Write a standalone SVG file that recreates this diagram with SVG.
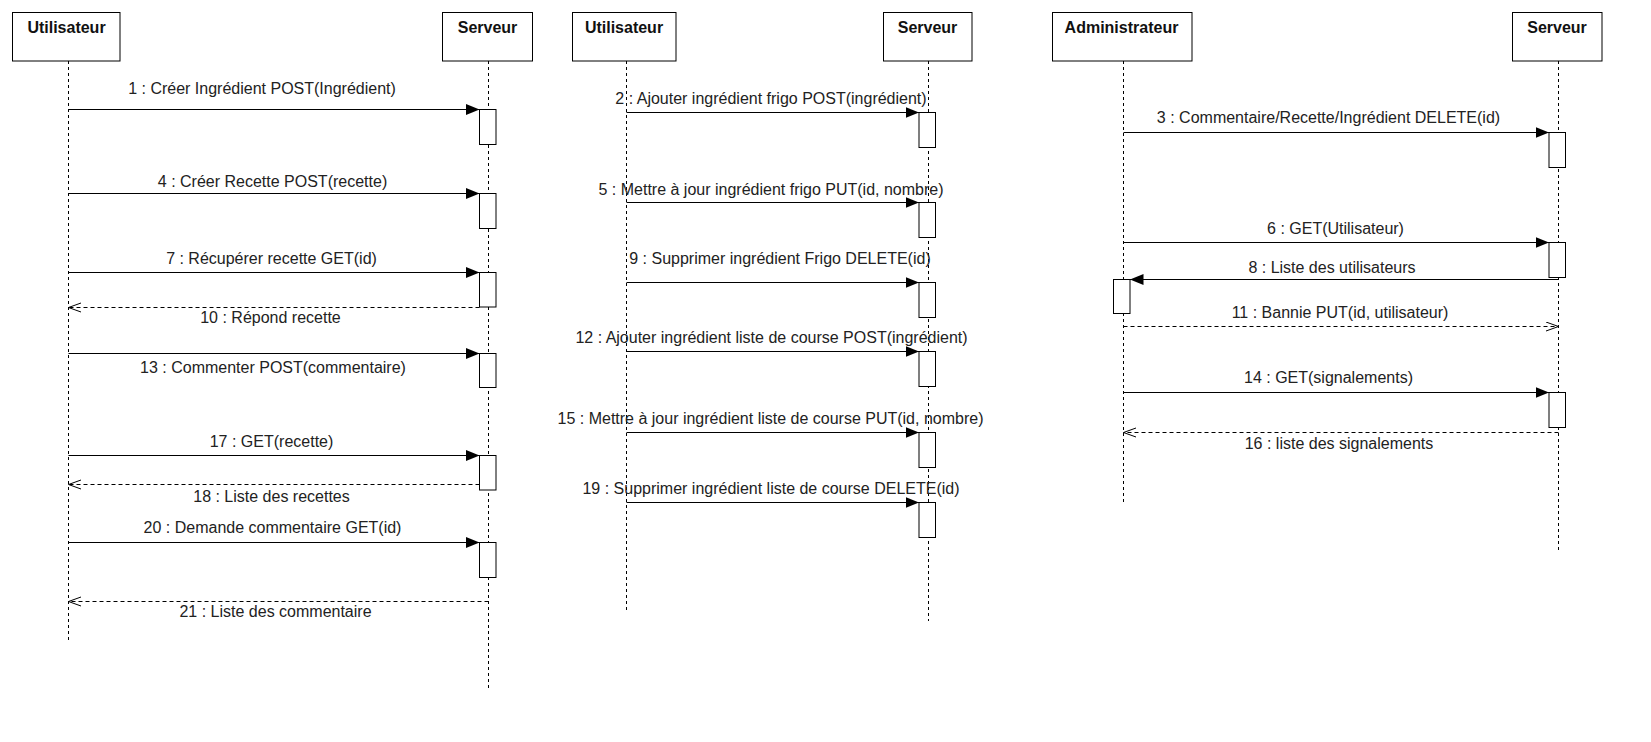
<svg xmlns="http://www.w3.org/2000/svg" width="1651" height="742" viewBox="0 0 1651 742">
  <style>
    .actor { fill: #ffffff; stroke: #000000; stroke-width: 1; }
    .title { font-family: "Liberation Sans", Arial, sans-serif; font-size: 16px; font-weight: bold; fill: #111111; text-anchor: middle; }
    .life { stroke: #000000; stroke-width: 1; stroke-dasharray: 3 3; fill: none; }
    .act { fill: #ffffff; stroke: #000000; stroke-width: 1; }
    .call { stroke: #000000; stroke-width: 1; fill: none; marker-end: url(#block); }
    .reply { stroke: #000000; stroke-width: 1; fill: none; stroke-dasharray: 4 3; marker-end: url(#open); }
    .lbl { font-family: "Liberation Sans", Arial, sans-serif; font-size: 16px; fill: #222222; text-anchor: middle; }
  </style>
  <defs>
    <marker id="block" markerUnits="userSpaceOnUse" markerWidth="15" markerHeight="12" refX="13.5" refY="5.5" orient="auto">
      <path d="M0,0 L13.5,5.5 L0,11 Z" fill="#000000"/>
    </marker>
    <marker id="open" markerUnits="userSpaceOnUse" markerWidth="15" markerHeight="12" refX="13" refY="5" orient="auto">
      <path d="M0.5,0.5 L13,5 L0.5,9.5" fill="none" stroke="#000000" stroke-width="1"/>
    </marker>
  </defs>

  <rect width="1651" height="742" fill="#ffffff"/>

  <!-- Diagram 1: Utilisateur / Serveur -->
  <g id="p1-utilisateur">
    <rect class="actor" x="12.5" y="12.5" width="107.5" height="48.5"/>
    <text class="title" x="66.5" y="33">Utilisateur</text>
    <path class="life" d="M68.5,61 V643"/>
  </g>
  <g id="p1-serveur">
    <rect class="actor" x="442.5" y="12.5" width="90" height="48.5"/>
    <text class="title" x="487.5" y="33">Serveur</text>
    <path class="life" d="M488.5,61 V690"/>
    <rect class="act" x="479.5" y="109.5" width="16.5" height="35"/>
    <rect class="act" x="479.5" y="193.5" width="16.5" height="35"/>
    <rect class="act" x="479.5" y="272.5" width="16.5" height="34.5"/>
    <rect class="act" x="479.5" y="353.5" width="16.5" height="34"/>
    <rect class="act" x="479.5" y="455.5" width="16.5" height="34.5"/>
    <rect class="act" x="479.5" y="542.5" width="16.5" height="35"/>
  </g>

  <!-- Diagram 2: Utilisateur / Serveur (frigo, liste de course) -->
  <g id="p2-utilisateur">
    <rect class="actor" x="572.5" y="12.5" width="103.5" height="48.5"/>
    <text class="title" x="624" y="33">Utilisateur</text>
    <path class="life" d="M626.5,61 V612"/>
  </g>
  <g id="p2-serveur">
    <rect class="actor" x="883.5" y="12.5" width="88.5" height="48.5"/>
    <text class="title" x="927.5" y="33">Serveur</text>
    <path class="life" d="M928.5,61 V621"/>
    <rect class="act" x="919" y="112.5" width="16.5" height="35"/>
    <rect class="act" x="919" y="202.5" width="16.5" height="35"/>
    <rect class="act" x="919" y="282.5" width="16.5" height="35"/>
    <rect class="act" x="919" y="351.5" width="16.5" height="35"/>
    <rect class="act" x="919" y="432.5" width="16.5" height="35"/>
    <rect class="act" x="919" y="502.5" width="16.5" height="35"/>
  </g>

  <!-- Diagram 3: Administrateur / Serveur -->
  <g id="p3-administrateur">
    <rect class="actor" x="1052.5" y="12.5" width="139.5" height="48.5"/>
    <text class="title" x="1121.5" y="33">Administrateur</text>
    <path class="life" d="M1123.5,61 V502"/>
    <rect class="act" x="1113.5" y="279.5" width="16.5" height="34"/>
  </g>
  <g id="p3-serveur">
    <rect class="actor" x="1512.5" y="12.5" width="89.5" height="48.5"/>
    <text class="title" x="1557" y="33">Serveur</text>
    <path class="life" d="M1558.5,61 V553"/>
    <rect class="act" x="1549" y="132.5" width="16.5" height="35"/>
    <rect class="act" x="1549" y="242.5" width="16.5" height="35"/>
    <rect class="act" x="1549" y="392.5" width="16.5" height="35"/>
  </g>

  <!-- Messages -->
  <g id="messages">
    <!-- diagram 1 -->
    <path class="call" d="M68.5,109.5 H479.5"/>
    <text class="lbl" x="262" y="94">1 : Créer Ingrédient POST(Ingrédient)</text>
    <path class="call" d="M68.5,193.5 H479.5"/>
    <text class="lbl" x="272.5" y="187">4 : Créer Recette POST(recette)</text>
    <path class="call" d="M68.5,272.5 H479.5"/>
    <text class="lbl" x="271.5" y="264">7 : Récupérer recette GET(id)</text>
    <path class="reply" d="M479.5,307.5 H68.5"/>
    <text class="lbl" x="270.5" y="323">10 : Répond recette</text>
    <path class="call" d="M68.5,353.5 H479.5"/>
    <text class="lbl" x="273" y="373">13 : Commenter POST(commentaire)</text>
    <path class="call" d="M68.5,455.5 H479.5"/>
    <text class="lbl" x="271.5" y="447">17 : GET(recette)</text>
    <path class="reply" d="M479.5,484.5 H68.5"/>
    <text class="lbl" x="271.5" y="502">18 : Liste des recettes</text>
    <path class="call" d="M68.5,542.5 H479.5"/>
    <text class="lbl" x="272.5" y="533">20 : Demande commentaire GET(id)</text>
    <path class="reply" d="M488.5,601.5 H68.5"/>
    <text class="lbl" x="275.5" y="617">21 : Liste des commentaire</text>

    <!-- diagram 2 -->
    <path class="call" d="M626.5,112.5 H919"/>
    <text class="lbl" x="771" y="104">2 : Ajouter ingrédient frigo POST(ingrédient)</text>
    <path class="call" d="M626.5,202.5 H919"/>
    <text class="lbl" x="771" y="195">5 : Mettre à jour ingrédient frigo PUT(id, nombre)</text>
    <path class="call" d="M626.5,282.5 H919"/>
    <text class="lbl" x="780" y="264">9 : Supprimer ingrédient Frigo DELETE(id)</text>
    <path class="call" d="M626.5,351.5 H919"/>
    <text class="lbl" x="771.5" y="343">12 : Ajouter ingrédient liste de course POST(ingrédient)</text>
    <path class="call" d="M626.5,432.5 H919"/>
    <text class="lbl" x="770.5" y="424">15 : Mettre à jour ingrédient liste de course PUT(id, nombre)</text>
    <path class="call" d="M626.5,502.5 H919"/>
    <text class="lbl" x="771" y="494">19 : Supprimer ingrédient liste de course DELETE(id)</text>

    <!-- diagram 3 -->
    <path class="call" d="M1123.5,132.5 H1549"/>
    <text class="lbl" x="1328.5" y="123">3 : Commentaire/Recette/Ingrédient DELETE(id)</text>
    <path class="call" d="M1123.5,242.5 H1549"/>
    <text class="lbl" x="1335.5" y="234">6 : GET(Utilisateur)</text>
    <path class="call" d="M1558.5,279.5 H1130"/>
    <text class="lbl" x="1332" y="273">8 : Liste des utilisateurs</text>
    <path class="reply" d="M1123.5,326.5 H1558.5"/>
    <text class="lbl" x="1340" y="318">11 : Bannie PUT(id, utilisateur)</text>
    <path class="call" d="M1123.5,392.5 H1549"/>
    <text class="lbl" x="1328.5" y="383">14 : GET(signalements)</text>
    <path class="reply" d="M1558.5,432.5 H1123.5"/>
    <text class="lbl" x="1339" y="449">16 : liste des signalements</text>
  </g>
</svg>
